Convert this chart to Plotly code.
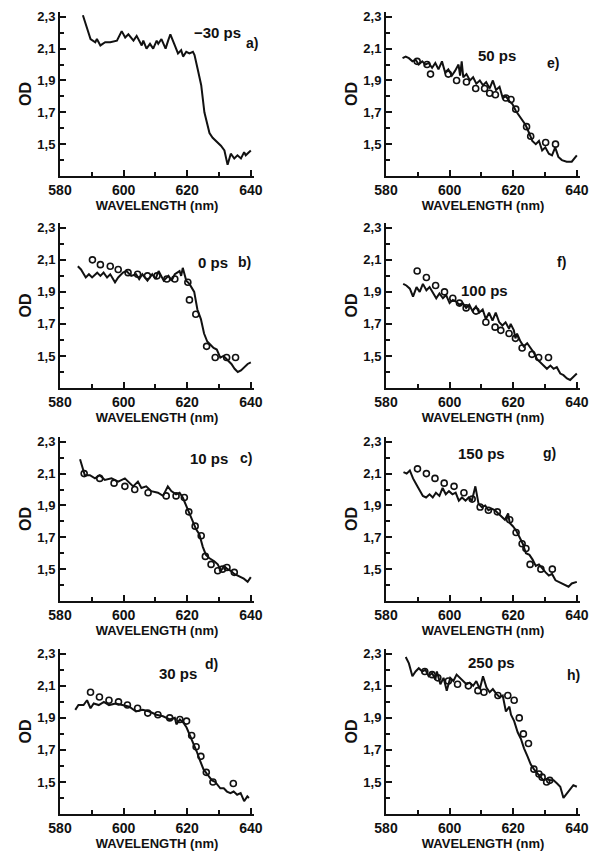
import plotly.graph_objects as go

# ---- data (wavelength nm, OD) ----
a_lam = [587.2,588.5,589.6,591.1,591.6,592.7,594.2,595.8,597.9,599.4,600.5,601.5,603.1,604.1,605.7,606.2,607.2,608.3,609.3,610.4,610.9,611.9,612.4,613.2,614.0,614.7,616.1,617.1,618.1,618.7,619.7,620.7,621.8,622.3,623.3,624.4,625.4,627.0,628.0,629.6,630.6,631.7,632.7,633.7,634.8,635.8,636.9,637.9,638.4,640.0]
a_od = [2.31,2.22,2.16,2.14,2.16,2.12,2.14,2.14,2.15,2.21,2.17,2.19,2.15,2.18,2.12,2.15,2.10,2.13,2.10,2.15,2.13,2.16,2.14,2.10,2.15,2.19,2.12,2.07,2.09,2.05,2.08,2.07,2.08,2.06,1.97,1.87,1.70,1.57,1.54,1.51,1.49,1.46,1.37,1.44,1.41,1.43,1.41,1.45,1.43,1.46]

b_lam = [585.6,586.6,588.1,589.1,590.1,591.7,592.7,593.7,594.8,595.8,597.3,598.3,599.8,600.9,602.4,603.9,604.9,605.9,607.5,609.0,610.0,611.0,612.6,614.1,615.1,616.1,617.6,618.1,618.6,619.7,620.7,622.2,623.2,624.3,625.3,626.3,627.3,628.3,629.3,630.4,631.4,632.9,633.9,634.9,635.9,636.9,638.0,639.0,640.0]
b_od = [2.06,2.04,1.99,2.01,1.99,2.02,2.00,2.02,1.99,2.01,1.96,1.99,2.02,2.03,2.00,2.01,1.98,2.01,1.97,2.01,1.98,2.03,1.97,2.00,1.97,2.01,2.03,2.00,2.05,1.97,1.95,1.90,1.79,1.73,1.64,1.59,1.57,1.55,1.54,1.49,1.50,1.47,1.45,1.42,1.40,1.41,1.43,1.45,1.46]
b_mlam = [590.2,592.7,595.8,598.3,601.4,604.4,607.5,610.5,613.6,616.1,620.2,620.7,622.7,626.1,628.8,632.4,635.2]
b_mod = [2.10,2.07,2.06,2.04,2.02,2.01,2.00,2.00,1.98,1.98,1.96,1.85,1.76,1.56,1.49,1.49,1.49]

c_lam = [586.3,587.3,587.8,589.4,591.0,592.5,594.1,596.2,598.3,600.4,601.4,603.0,604.5,605.6,607.1,608.7,610.8,612.4,613.9,615.0,616.5,617.6,618.6,619.7,620.7,621.8,622.8,623.8,624.9,625.9,626.9,628.5,629.6,630.6,631.6,632.7,633.7,634.8,635.8,636.9,637.8,639.0,640.0]
c_od = [2.19,2.13,2.09,2.09,2.07,2.09,2.06,2.07,2.05,2.07,2.05,2.02,2.05,2.01,2.02,1.99,1.98,1.96,2.02,1.99,1.97,1.98,1.95,1.90,1.85,1.80,1.75,1.72,1.64,1.59,1.57,1.55,1.53,1.49,1.52,1.50,1.49,1.47,1.46,1.45,1.44,1.42,1.45]
c_mlam = [587.6,592.5,597.0,600.4,603.5,607.7,613.4,616.5,619.1,620.5,622.5,624.4,625.7,627.5,629.6,631.1,632.5,634.8]
c_mod = [2.10,2.07,2.04,2.02,2.00,1.98,1.96,1.96,1.95,1.86,1.77,1.71,1.58,1.53,1.49,1.50,1.51,1.48]

d_lam = [584.8,585.8,587.4,588.5,589.6,590.6,592.2,593.8,595.4,597.5,599.6,601.8,603.9,606.0,608.1,610.3,612.4,614.5,616.1,616.6,617.7,618.8,619.8,620.9,621.9,623.0,624.1,625.1,626.2,627.8,628.8,630.4,631.5,632.5,633.6,634.6,635.7,636.8,637.9,638.9,639.4]
d_od = [1.95,1.98,1.98,2.01,1.96,1.99,1.98,2.00,1.98,1.99,1.98,1.97,1.94,1.95,1.94,1.92,1.91,1.89,1.90,1.86,1.89,1.87,1.84,1.79,1.74,1.69,1.63,1.58,1.55,1.51,1.50,1.46,1.46,1.44,1.43,1.44,1.42,1.43,1.38,1.41,1.40]
d_mlam = [589.6,592.4,595.4,598.4,601.2,604.4,607.6,610.8,614.5,617.7,619.8,621.4,622.8,624.3,626.0,628.1,634.5]
d_mod = [2.06,2.03,2.01,2.00,1.98,1.96,1.93,1.92,1.90,1.89,1.88,1.79,1.72,1.66,1.56,1.50,1.49]

e_lam = [585.2,586.2,587.2,588.3,589.3,590.3,591.4,592.4,593.4,594.5,595.5,596.5,597.6,598.6,599.6,600.7,601.7,602.8,603.3,603.8,604.3,605.3,606.4,607.4,608.4,609.5,610.5,611.5,612.6,613.6,614.6,615.7,616.7,617.7,618.8,619.8,620.8,621.9,622.9,623.9,625.0,626.0,627.1,628.1,629.1,630.1,631.2,632.2,633.2,634.2,635.3,636.8,638.4,639.3,640.0]
e_od = [2.04,2.05,2.04,2.02,2.03,2.00,2.02,2.00,2.01,1.98,2.01,1.97,2.02,1.95,1.97,1.93,1.96,2.00,1.93,2.02,1.92,1.94,1.90,1.92,1.88,1.90,1.87,1.89,1.85,1.90,1.84,1.86,1.79,1.80,1.77,1.75,1.71,1.68,1.65,1.62,1.57,1.52,1.50,1.52,1.46,1.48,1.44,1.43,1.48,1.42,1.40,1.39,1.39,1.41,1.43]
e_mlam = [589.8,592.9,594.0,599.6,602.2,605.3,608.2,611.0,612.6,614.4,617.7,619.3,620.8,624.2,625.5,630.2,633.3]
e_mod = [2.02,2.00,1.94,1.94,1.90,1.89,1.85,1.85,1.82,1.81,1.79,1.78,1.72,1.61,1.55,1.51,1.50]

f_lam = [585.4,586.4,587.5,588.5,589.6,590.6,591.6,592.7,593.7,594.8,595.8,596.8,597.9,598.9,600.0,601.0,602.0,603.1,604.1,605.2,606.2,607.2,608.3,609.3,610.4,611.4,612.4,613.5,614.5,615.6,616.6,617.6,618.7,619.2,620.2,620.7,621.2,622.3,623.3,624.4,625.4,626.5,627.5,628.5,629.6,630.6,631.7,632.7,633.7,634.8,635.8,636.9,637.9,638.9,640.0]
f_od = [1.95,1.94,1.92,1.87,1.93,1.90,1.95,1.91,1.93,1.89,1.86,1.89,1.86,1.88,1.83,1.85,1.84,1.82,1.83,1.80,1.82,1.78,1.81,1.77,1.79,1.73,1.77,1.72,1.77,1.71,1.69,1.71,1.67,1.70,1.66,1.61,1.64,1.59,1.56,1.58,1.55,1.52,1.48,1.46,1.44,1.42,1.44,1.42,1.43,1.39,1.38,1.36,1.35,1.37,1.39]
f_mlam = [589.8,592.7,595.6,598.4,601.0,603.1,605.2,608.3,611.4,614.3,616.1,618.7,620.7,622.8,625.9,628.0,631.1]
f_mod = [2.03,1.99,1.94,1.90,1.86,1.83,1.80,1.78,1.71,1.68,1.66,1.64,1.61,1.55,1.51,1.49,1.49]

g_lam = [585.5,586.5,587.5,588.5,589.6,590.6,591.6,592.6,593.7,594.7,595.7,596.8,597.8,598.8,599.8,600.9,601.9,602.9,603.9,605.0,606.0,607.0,608.1,609.1,610.1,611.2,612.2,613.2,614.3,615.3,616.3,617.4,618.4,618.9,619.9,621.0,622.0,623.0,624.0,625.1,626.1,627.1,628.1,629.2,630.2,631.2,632.2,633.3,634.3,635.3,636.3,637.4,638.4,640.0]
g_od = [2.11,2.10,2.12,2.07,2.03,1.99,1.96,1.95,1.97,1.95,1.98,1.96,2.01,1.97,1.99,1.97,1.98,1.93,1.95,1.93,1.95,1.93,2.02,1.91,1.89,1.90,1.87,1.88,1.87,1.85,1.83,1.81,1.85,1.79,1.77,1.74,1.70,1.66,1.60,1.59,1.56,1.52,1.53,1.50,1.48,1.46,1.47,1.43,1.42,1.41,1.40,1.39,1.41,1.42]
g_mlam = [589.9,592.7,595.4,598.3,601.4,604.5,607.1,609.6,612.2,615.0,618.9,620.9,622.8,624.0,625.3,628.7,632.3]
g_mod = [2.13,2.10,2.07,2.04,2.02,1.98,1.94,1.89,1.87,1.86,1.81,1.73,1.66,1.63,1.53,1.50,1.50]

h_lam = [586.2,587.2,588.3,589.3,590.3,591.4,592.4,593.4,594.5,595.5,596.0,597.1,598.1,599.1,600.2,601.2,602.2,603.3,604.3,605.3,606.3,607.4,608.4,609.5,610.5,611.6,612.6,613.6,614.7,615.7,616.7,617.7,618.8,619.3,620.3,621.4,622.4,623.4,624.5,625.5,626.5,627.6,628.6,629.6,630.7,631.7,632.7,633.8,634.8,635.8,636.9,637.9,638.9,640.0]
h_od = [2.28,2.24,2.16,2.19,2.21,2.19,2.20,2.16,2.18,2.14,2.19,2.11,2.15,2.07,2.15,2.13,2.17,2.15,2.13,2.11,2.12,2.10,2.13,2.08,2.16,2.09,2.06,2.08,2.05,2.03,2.04,1.94,1.97,1.92,1.88,1.81,1.77,1.71,1.66,1.61,1.58,1.55,1.53,1.51,1.52,1.51,1.51,1.49,1.47,1.40,1.43,1.45,1.48,1.47]
h_mlam = [592.2,594.5,596.3,599.6,602.5,605.9,608.9,610.8,615.2,618.3,620.3,621.9,623.2,624.8,626.5,628.1,629.1,630.5,631.5]
h_mod = [2.19,2.17,2.15,2.13,2.11,2.10,2.07,2.06,2.04,2.04,2.01,1.90,1.80,1.74,1.58,1.55,1.53,1.50,1.51]

times = ["\u221230 ps", "0 ps", "10 ps", "30 ps", "50 ps", "100 ps", "150 ps", "250 ps"]
letters = ["a)", "b)", "c)", "d)", "e)", "f)", "g)", "h)"]

panels = [
    (a_lam, a_od, None, None),
    (b_lam, b_od, b_mlam, b_mod),
    (c_lam, c_od, c_mlam, c_mod),
    (d_lam, d_od, d_mlam, d_mod),
    (e_lam, e_od, e_mlam, e_mod),
    (f_lam, f_od, f_mlam, f_mod),
    (g_lam, g_od, g_mlam, g_mod),
    (h_lam, h_od, h_mlam, h_mod),
]

W, H = 594, 851
col_x = [(60, 254), (386, 580)]          # pixel extents of 580..641
row_y = [(12, 176), (223, 388), (437, 601), (649, 814)]  # top(2.33), bottom(1.3)

# label positions (pixels) for time label and letter
time_pos = [(192, 22), (196, 252), (188, 458), (157, 684), (518, 45), (510, 280), (507, 453), (517, 673)]
letter_pos = [(252, 33), (244, 252), (246, 458), (211, 674), (561, 53), (568, 252), (558, 453), (582, 685)]

INK = "#111111"
FONT = "Liberation Sans"
fig = go.Figure()
layout = dict(
    width=W, height=H, margin=dict(l=0, r=0, t=0, b=0, autoexpand=False),
    paper_bgcolor="white", plot_bgcolor="white", showlegend=False,
    separators=",.",
    font=dict(family=FONT, color=INK),
    annotations=[],
)

for i, (lam, od, mlam, mod) in enumerate(panels):
    col = i // 4
    row = i % 4
    k = i + 1
    xa = "x" if k == 1 else f"x{k}"
    ya = "y" if k == 1 else f"y{k}"
    fig.add_trace(go.Scatter(x=lam, y=od, mode="lines", xaxis=xa, yaxis=ya,
                             line=dict(color=INK, width=2)))
    if mlam is not None:
        fig.add_trace(go.Scatter(x=mlam, y=mod, mode="markers", xaxis=xa, yaxis=ya,
                                 marker=dict(symbol="circle-open", size=6, color=INK,
                                             line=dict(width=1.6, color=INK))))
    x0, x1 = col_x[col]
    yt, yb = row_y[row]
    xkey = "xaxis" if k == 1 else f"xaxis{k}"
    ykey = "yaxis" if k == 1 else f"yaxis{k}"
    layout[xkey] = dict(
        domain=[x0 / W, x1 / W], range=[580, 641], anchor=ya, automargin=False,
        showgrid=False, zeroline=False, showline=True, linecolor=INK, linewidth=2,
        ticks="inside", ticklen=6, tickwidth=2, tickcolor=INK,
        tickvals=[580, 600, 620, 640], ticktext=["580", "600", "620", "640"],
        minor=dict(ticks="inside", ticklen=4, tickwidth=1.5, tickcolor=INK, tickvals=[590, 610, 630]),
        tickfont=dict(size=14, family=FONT, weight="bold", color=INK),
        title=dict(text="WAVELENGTH (nm)", standoff=0,
                   font=dict(size=13, family=FONT, weight="bold", color=INK)),
    )
    layout[ykey] = dict(
        domain=[1 - yb / H, 1 - yt / H], range=[1.3, 2.33], anchor=xa, automargin=False,
        showgrid=False, zeroline=False, showline=True, linecolor=INK, linewidth=2,
        ticks="inside", ticklen=6, tickwidth=2, tickcolor=INK,
        tickmode="array", tickvals=[1.5, 1.7, 1.9, 2.1, 2.3], tickformat=".1f",
        minor=dict(ticks="inside", ticklen=4, tickwidth=1.5, tickcolor=INK,
                   tickvals=[1.4, 1.6, 1.8, 2.0, 2.2]),
        tickfont=dict(size=13, family=FONT, weight="bold", color=INK),
        title=dict(text="OD", standoff=2,
                   font=dict(size=16, family=FONT, weight="bold", color=INK)),
    )
    tx, ty = time_pos[i]
    lx, ly = letter_pos[i]
    layout["annotations"].append(dict(x=tx / W, y=1 - ty / H, xref="paper", yref="paper",
                                      text=times[i], showarrow=False,
                                      font=dict(size=15, family=FONT, weight="bold", color=INK)))
    layout["annotations"].append(dict(x=lx / W, y=1 - ly / H, xref="paper", yref="paper",
                                      text=letters[i], showarrow=False,
                                      font=dict(size=14, family=FONT, weight="bold", color=INK)))

fig.update_layout(**layout)
fig.write_html("out.html", config={"displayModeBar": False},
               post_script="document.body.style.margin='0';document.body.style.overflow='hidden';")
